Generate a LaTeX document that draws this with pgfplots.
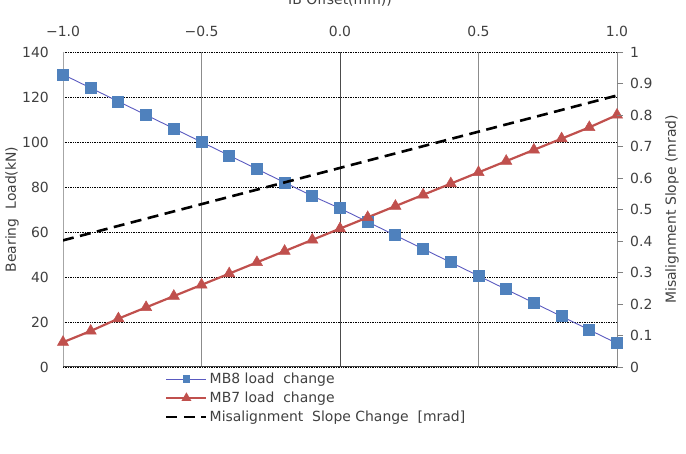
\documentclass[border=0pt]{standalone}
\usepackage{pgfplots}
\pgfplotsset{compat=1.18}
\usepackage{fontspec}
\setmainfont{DejaVu Sans}

\definecolor{mbblue}{HTML}{4F81BD}
\definecolor{mbline}{HTML}{5A5AC0}
\definecolor{mbred}{HTML}{C0504D}
\definecolor{txt}{HTML}{404040}

\pgfplotstableread{
x     mb8   mb7    slope
-1.0  130   11     0.402
-0.9  124   16     0.425
-0.8  118   21.5   0.448
-0.7  112   26.5   0.471
-0.6  106   31.5   0.494
-0.5  100   36.5   0.517
-0.4  94    41.5   0.540
-0.3  88    46.5   0.563
-0.2  82    51.5   0.586
-0.1  76    56.5   0.609
 0.0  70.5  61.5   0.632
 0.1  64.5  66.5   0.655
 0.2  58.5  71.5   0.678
 0.3  52.5  76.5   0.701
 0.4  46.5  81.5   0.724
 0.5  40.5  86.5   0.747
 0.6  34.5  91.5   0.770
 0.7  28.5  96.5   0.793
 0.8  22.5  101.5  0.816
 0.9  16.5  106.5  0.839
 1.0  10.5  112    0.862
}\datatable

\pgfplotsset{
  common/.style={
    at={(63bp,87bp)}, anchor=south west,
    width=554bp, height=315bp, scale only axis,
    xmin=-1, xmax=1,
    axis line style={draw=none},
    /pgf/number format/assume math mode=true,
    tick label style={font=\fontsize{14}{16}\selectfont, text=txt},
    label style={font=\fontsize{14}{16}\selectfont, text=txt},
  },
}

\begin{document}
\begin{tikzpicture}
\clip (0,0) rectangle (686bp,454bp);

% load axis (left) with the offset scale on top
\begin{axis}[common,
  ymin=0, ymax=140, ytick={0,20,...,140},
  xtick={-1,-0.5,0,0.5,1},
  xticklabels={−1.0,−0.5,0.0,0.5,1.0},
  xticklabel pos=upper,
  xticklabel style={anchor=base, inner sep=0pt, yshift=15bp},
  yticklabel style={anchor=east, inner sep=0pt, xshift=-14bp},
  major tick length=0pt,
  xmajorgrids, ymajorgrids,
  x grid style={draw=black!45, line width=0.6bp},
  y grid style={draw=black, line width=0.7bp, densely dotted},
  title={IB Offset(mm))},
  title style={font=\fontsize{14}{16}\selectfont, text=txt, at={(axis description cs:0.5,1)}, anchor=base, yshift=42bp},
  ylabel={Bearing~ Load(kN)},
  ylabel style={at={(axis description cs:0,0.5)}, anchor=center, yshift=51bp},
]
  \draw[black!35, line width=0.8bp] (rel axis cs:0,0) -- (rel axis cs:0,1);
  \draw[black!50, line width=0.8bp] (rel axis cs:1,0) -- (rel axis cs:1,1);
  \draw[black!70, line width=0.8bp] (axis cs:0,0) -- (axis cs:0,140);
  \draw[black!75, line width=1bp] (rel axis cs:0,0) -- (rel axis cs:1,0);
  \addplot[mbline, line width=0.9bp, mark=square*, mark size=5.5bp,
    mark options={fill=mbblue, draw=mbblue}] table[x=x, y=mb8] {\datatable};
  \addplot[mbred, line width=2.2bp, mark=triangle*, mark size=6.5bp,
    mark options={fill=mbred, draw=mbred, line width=0.5bp}] table[x=x, y=mb7] {\datatable};
\end{axis}

% slope axis (right)
\begin{axis}[common,
  ymin=0, ymax=1, ytick={0,0.1,...,1},
  yticklabels={0,0.1,0.2,0.3,0.4,0.5,0.6,0.7,0.8,0.9,1},
  axis y line*=right, axis x line=none,
  y axis line style={draw=none},
  ytick style={draw=black!50, line width=0.8bp},
  tick align=outside, major tick length=6bp,
  yticklabel style={anchor=west, inner sep=0pt, xshift=7bp},
  ylabel={Misalignment Slope (mrad)},
  ylabel style={at={(axis description cs:1,0.5)}, anchor=center, yshift=-55bp},
  legend cell align=left,
  legend style={at={(axis description cs:0.184,-0.012)}, anchor=north west,
    draw=none, fill=none, inner sep=0pt, row sep=3bp,
    font=\fontsize{14}{16}\selectfont, text=txt},
  legend image code/.code={%
    \draw[mark repeat=2, mark phase=2, #1]
      plot coordinates {(0bp,0bp) (20bp,0bp) (40bp,0bp)};},
]
  \addlegendimage{mbline, line width=0.9bp, mark=square*, mark size=3.2bp,
    mark options={fill=mbblue, draw=mbblue}}
  \addlegendentry{MB8 load~ change}
  \addlegendimage{mbred, line width=2bp, mark=triangle*, mark size=3.8bp,
    mark options={fill=mbred, draw=mbred}}
  \addlegendentry{MB7 load~ change}
  \addplot[black, line width=2.6bp, dash pattern=on 11bp off 6.5bp]
    table[x=x, y=slope] {\datatable};
  \addlegendentry{Misalignment~ Slope Change~ [mrad]}
\end{axis}
\end{tikzpicture}
\end{document}
